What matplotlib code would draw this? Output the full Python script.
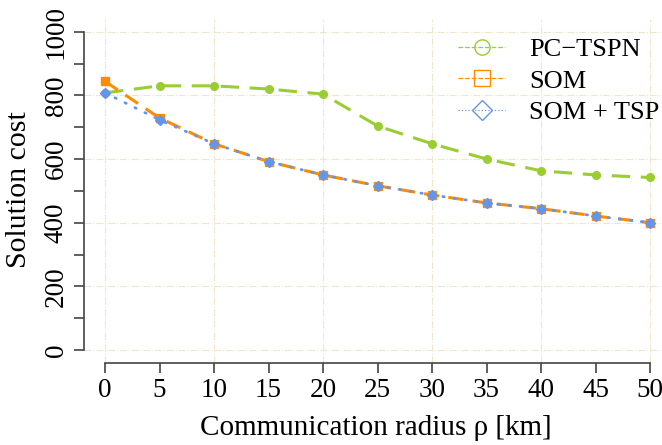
import numpy as np
import matplotlib
matplotlib.use("Agg")
from matplotlib import pyplot as plt
from matplotlib.lines import Line2D

# data
radius = [0, 5, 10, 15, 20, 25, 30, 35, 40, 45, 50]
pc_tspn = [808, 830, 830, 820, 804, 704, 648, 600, 563, 550, 542]
som = [844, 729, 648, 592, 550, 516, 487, 462, 444, 421, 400]
som_tsp = [808, 723, 648, 592, 550, 516, 487, 462, 444, 421, 400]

green = "#9acd32"
orange = "#ff8c00"
blue = "#6495ed"

plt.rcParams["font.family"] = ["Liberation Serif", "DejaVu Serif"]

fig = plt.figure(figsize=(6.62, 4.45), dpi=100)
W, H = 662, 445
# axes box in pixels: left 84, right 662, top 19, bottom 363
ax = fig.add_axes([84 / W, 1 - 363 / H, (662 - 84) / W, (363 - 19) / H])
ax.set_xlim(-1.93, 51.1)
ax.set_ylim(-40.9, 1040)

# grid
for gx in range(0, 51, 10):
    ax.axvline(gx, color="#efe6cc", lw=0.8, ls="-.", zorder=0)
for gy in range(0, 1001, 200):
    ax.axhline(gy, color="#efe6cc", lw=0.8, ls="-.", zorder=0)

ax.plot(radius, pc_tspn, color=green, lw=2.2, ls=(0, (6, 3.5)), marker="o",
        ms=5.5, mfc=green, mec=green, zorder=3)
ax.plot(radius, som, color=orange, lw=2.2, ls=(0, (5, 3)), marker="s",
        ms=5.5, mfc=orange, mec=orange, zorder=4)
ax.plot(radius, som_tsp, color=blue, lw=2.0, ls=(0, (0.5, 3.5)), marker="D",
        ms=5.5, mfc=blue, mec=blue, dash_capstyle="round", zorder=5)

# R-style detached axes
for s in ["top", "right"]:
    ax.spines[s].set_visible(False)
ax.spines["left"].set_bounds(0, 1000)
ax.spines["bottom"].set_bounds(0, 50)
for s in ["left", "bottom"]:
    ax.spines[s].set_color("#444444")
    ax.spines[s].set_linewidth(1.2)

ax.set_xticks(radius)
ax.set_xticklabels([str(r) for r in radius])
yt = list(range(0, 1001, 100))
ax.set_yticks(yt)
ax.set_yticklabels([str(v) if v % 200 == 0 else "" for v in yt],
                   rotation=90, va="center")
ax.tick_params(axis="both", direction="out", length=7, width=1.2,
               color="#444444", labelsize=19.5, pad=4)

ax.set_xlabel("Communication radius \u03c1 [km]", fontsize=21)
ax.set_ylabel("Solution cost", fontsize=21.5)
# label centres in pixels, as in the reference
ax.xaxis.set_label_coords((376 - 84) / (662 - 84), (363 - 428) / (363 - 19))
ax.yaxis.set_label_coords((19 - 84) / (662 - 84), (363 - 190) / (363 - 19))
ax.xaxis.label.set_va("center")
ax.yaxis.label.set_va("center")

handles = [
    Line2D([], [], color=green, lw=0.9, ls="--", marker="o", ms=11,
           mfc="none", mec=green),
    Line2D([], [], color=orange, lw=0.9, ls="--", marker="s", ms=11,
           mfc="none", mec=orange),
    Line2D([], [], color=blue, lw=0.9, ls=":", marker="D", ms=10,
           mfc="none", mec=blue),
]
ax.legend(handles, ["PC\u2212TSPN", "SOM", "SOM + TSP"], loc="upper left",
          bbox_to_anchor=(434 / W, 1 - 14 / H), bbox_transform=fig.transFigure,
          frameon=False, fontsize=19, handlelength=1.8, handletextpad=0.9,
          labelspacing=0.3, borderpad=0.4)

fig.savefig("out.png", dpi=100)
